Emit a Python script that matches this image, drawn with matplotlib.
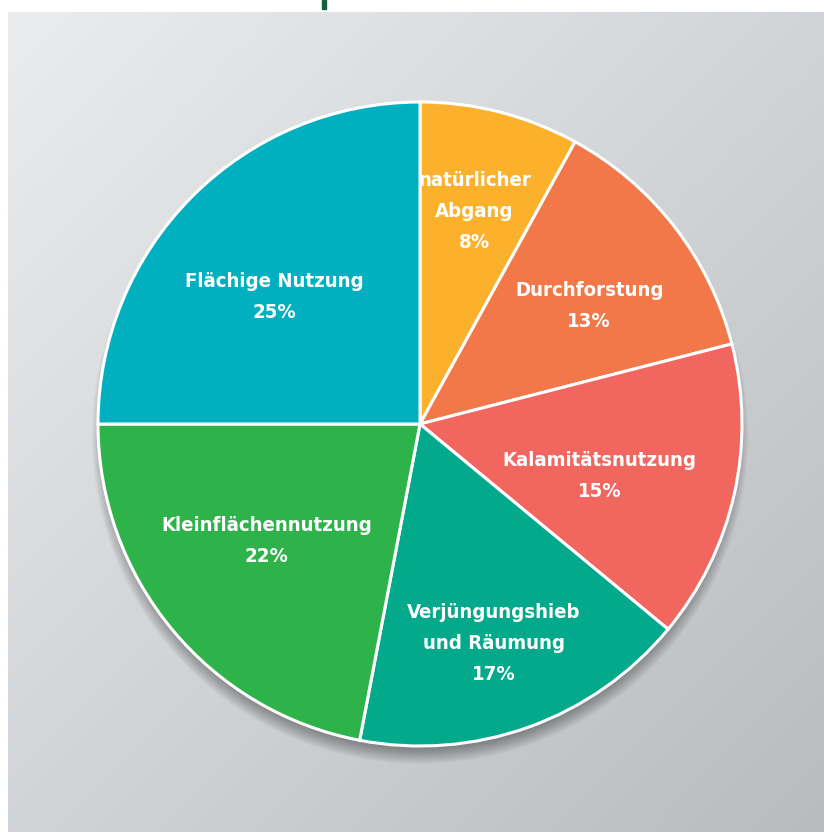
import numpy as np
import matplotlib
matplotlib.use("Agg")
import matplotlib.pyplot as plt
from matplotlib.patches import Rectangle, Circle
from matplotlib import font_manager

categories = ["natürlicher\nAbgang", "Durchforstung", "Kalamitätsnutzung",
              "Verjüngungshieb\nund Räumung", "Kleinflächennutzung", "Flächige Nutzung"]
values = [8, 13, 15, 17, 22, 25]
colors = ["#FBB12C", "#F37849", "#F1665E", "#02A98A", "#2EB34B", "#00B0C0"]
label_radius = [0.68, 0.64, 0.58, 0.72, 0.60, 0.60]
label_angle_shift = [0, -3, -3.5, -1.3, -2.2, 4]

names = [f.name for f in font_manager.fontManager.ttflist]
if "Liberation Sans Narrow" in names:
    fam = ["Liberation Sans Narrow", "DejaVu Sans"]
    stretch = "normal"
    fsize = 16
else:
    fam = ["DejaVu Sans"]
    stretch = "condensed"
    fsize = 14.6

W, H = 824, 832
fig = plt.figure(figsize=(W / 100, H / 100), dpi=100)
fig.patch.set_facecolor("white")

# background gradient panel
bx0, by0 = 8, 12
bg = fig.add_axes([bx0 / W, 0, (W - bx0) / W, (H - by0) / H])
yy, xx = np.mgrid[0:1:200j, 0:1:200j]
t = 0.5 * xx + 0.5 * yy
c0 = np.array([0.918, 0.925, 0.933])
c1 = np.array([0.725, 0.737, 0.749])
img = c0[None, None, :] * (1 - t[..., None]) + c1[None, None, :] * t[..., None]
bg.imshow(img, aspect="auto", extent=[0, 1, 0, 1], origin="upper")
bg.set_axis_off()

# green marker at top
fig.patches.append(Rectangle((322 / W, 1 - 9 / H), 4 / W, 9 / H,
                             transform=fig.transFigure, color="#12603D", zorder=5))

# pie axes
cx, cy, R = 420, 424, 322
ax = fig.add_axes([(cx - R) / W, (H - cy - R) / H, 2 * R / W, 2 * R / H])
ax.set_xlim(-1, 1)
ax.set_ylim(-1, 1)
ax.set_axis_off()
ax.patch.set_alpha(0)

# soft shadow below the pie
for i in range(12):
    ax.add_patch(Circle((0, -0.036), 0.975 + 0.004 * i, color="black",
                        alpha=0.032, lw=0, clip_on=False, zorder=0))

wedges, _ = ax.pie(values, colors=colors, startangle=90, counterclock=False,
                   radius=1, wedgeprops=dict(edgecolor="white", linewidth=2.2),
                   frame=False)
ax.set_xlim(-1, 1)
ax.set_ylim(-1, 1)
ax.set_aspect("auto")

for w, name, v, r, da in zip(wedges, categories, values, label_radius, label_angle_shift):
    ang = np.deg2rad((w.theta1 + w.theta2) / 2 + da)
    x, y = r * np.cos(ang), r * np.sin(ang)
    ax.text(x, y, f"{name}\n{v}%", ha="center", va="center", color="white",
            fontsize=fsize, fontweight="bold", family=fam, fontstretch=stretch,
            linespacing=1.8, zorder=10)

fig.savefig("out.png", dpi=100)
